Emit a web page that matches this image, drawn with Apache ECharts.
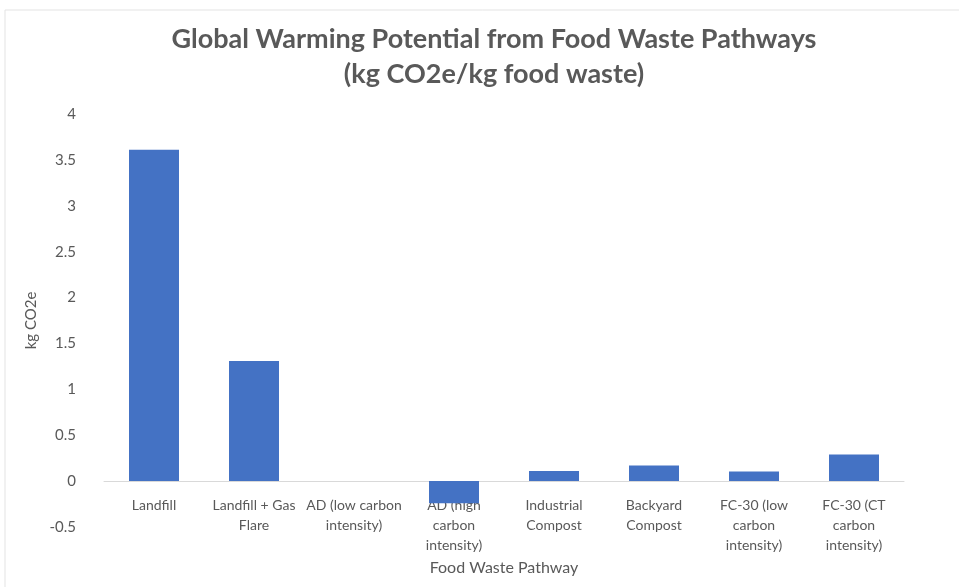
<!DOCTYPE html>
<html>
<head>
<meta charset="utf-8">
<script src="https://cdn.jsdelivr.net/npm/echarts@6/dist/echarts.min.js"></script>
<style>
  html, body { margin: 0; padding: 0; background: #fff; }
  #chart { width: 959px; height: 587px; }
</style>
</head>
<body>
<div id="chart"></div>
<script>
// data
var categories = [
    "Landfill",
    "Landfill + Gas Flare",
    "AD (low carbon intensity)",
    "AD (high carbon intensity)",
    "Industrial Compost",
    "Backyard Compost",
    "FC-30 (low carbon intensity)",
    "FC-30 (CT carbon intensity)"
];
var tickLabels = [
    "Landfill",
    "Landfill + Gas\nFlare",
    "AD (low carbon\nintensity)",
    "AD (high\ncarbon\nintensity)",
    "Industrial\nCompost",
    "Backyard\nCompost",
    "FC-30 (low\ncarbon\nintensity)",
    "FC-30 (CT\ncarbon\nintensity)"
];
var gwp = [3.61, 1.31, 0, -0.24, 0.11, 0.17, 0.105, 0.29];

var chart = echarts.init(document.getElementById("chart"));
var grey = "#595959";

var option = {
    animation: false,
    backgroundColor: "#fff",
    title: {
        text: "Global Warming Potential from Food Waste Pathways\n(kg CO2e/kg food waste)",
        left: 489,
        textAlign: "center",
        top: 17,
        textStyle: {
            fontFamily: "Lato",
            fontWeight: "bold",
            fontSize: 27,
            lineHeight: 35,
            color: grey
        }
    },
    graphic: [
        {
            type: "rect",
            shape: { x: 5, y: 10, width: 1000, height: 700 },
            style: { fill: "none", stroke: "#e3e3e3", lineWidth: 1 },
            silent: true
        }
    ],
    grid: {
        left: 104,
        right: 55,
        top: 114,
        bottom: 60,
        containLabel: false,
        outerBoundsMode: "none"
    },
    xAxis: {
        type: "category",
        data: categories,
        name: "Food Waste Pathway",
        nameLocation: "middle",
        nameGap: 29,
        nameTextStyle: { fontFamily: "Lato", fontSize: 16, color: grey },
        axisLine: { onZero: true, lineStyle: { color: "#d9d9d9", width: 1 } },
        axisTick: { show: false },
        axisLabel: {
            interval: 0,
            margin: -32,
            fontFamily: "Lato",
            fontSize: 14,
            lineHeight: 20,
            color: grey,
            formatter: function (v, i) { return tickLabels[i]; }
        }
    },
    yAxis: {
        type: "value",
        min: -0.5,
        max: 4,
        interval: 0.5,
        name: "kg CO2e",
        nameLocation: "middle",
        nameGap: 53,
        nameTextStyle: { fontFamily: "Lato", fontSize: 15, color: grey },
        axisLine: { show: false },
        axisTick: { show: false },
        splitLine: { show: false },
        axisLabel: {
            margin: 28,
            fontFamily: "Lato",
            fontSize: 15,
            color: grey
        }
    },
    series: [
        {
            name: "kg CO2e",
            type: "bar",
            data: gwp,
            barWidth: "50%",
            itemStyle: { color: "#4472C4" }
        }
    ]
};

chart.setOption(option);
</script>
</body>
</html>
